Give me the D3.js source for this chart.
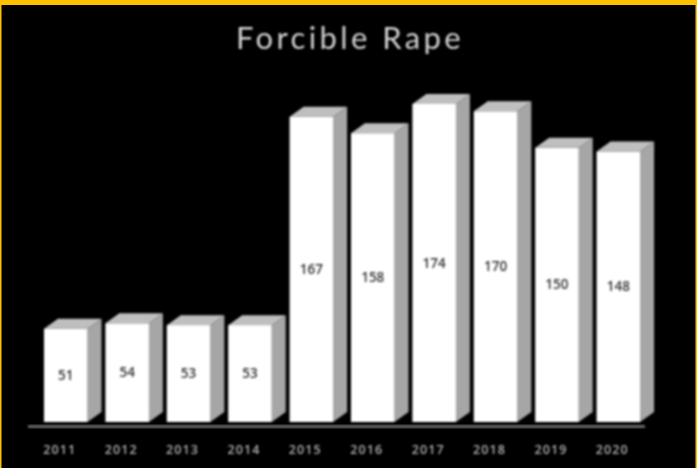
<!DOCTYPE html>
<html><head><meta charset="utf-8">
<script src="https://cdn.jsdelivr.net/npm/d3@7/dist/d3.min.js"></script>
<style>html,body{margin:0;padding:0;background:#000;overflow:hidden}svg{display:block}</style>
</head><body><svg id="c" width="697" height="468"></svg>
<script>
const years = ["2011","2012","2013","2014","2015","2016","2017","2018","2019","2020"];
const counts = [51,54,53,53,167,158,174,170,150,148];
const chartTitle = "Forcible Rape";

const W = 697, H = 468;
const dx = 14, dy = 10;
const svg = d3.select("#c");
const defs = svg.append("defs");
defs.append("filter").attr("id","b").attr("x","-5%").attr("y","-5%").attr("width","110%").attr("height","110%")
  .append("feGaussianBlur").attr("stdDeviation",0.95);
defs.append("filter").attr("id","b2").attr("x","-5%").attr("y","-20%").attr("width","110%").attr("height","140%")
  .append("feGaussianBlur").attr("stdDeviation",0.8);

svg.append("rect").attr("width",W).attr("height",H).attr("fill","#000");
svg.append("rect").attr("width",W).attr("height",5).attr("fill","#FFC000");
svg.append("rect").attr("width",1.5).attr("height",H).attr("fill","#FFC000");
svg.append("rect").attr("x",W-1.5).attr("width",1.5).attr("height",H).attr("fill","#FFC000");

const x = d3.scaleBand().domain(years).range([35.05,649.05]).paddingInner(0.2915).paddingOuter(0.1458);
const y = d3.scaleLinear().domain([0,174]).range([422,104]);

const g = svg.append("g").attr("filter","url(#b)");
const bars = g.selectAll("g.bar").data(years.map((yr,i)=>({yr,v:counts[i]}))).join("g").attr("class","bar");

bars.append("polygon").attr("fill","#a6a6a6").attr("points",d=>{
  const r=x(d.yr)+x.bandwidth(), t=y(d.v), b=y(0);
  return [[r,t],[r+dx,t-dy],[r+dx,b-dy],[r,b]].join(" ");
});
bars.append("polygon").attr("fill","#bfbfbf").attr("points",d=>{
  const l=x(d.yr), r=l+x.bandwidth(), t=y(d.v);
  return [[l,t],[l+dx,t-dy],[r+dx,t-dy],[r,t]].join(" ");
});
bars.append("rect").attr("x",d=>x(d.yr)).attr("y",d=>y(d.v)).attr("width",x.bandwidth())
  .attr("height",d=>y(0)-y(d.v)).attr("fill","#fff");

const axisG = svg.append("g").attr("filter","url(#b)");
axisG.append("rect").attr("x",28).attr("y",425).attr("width",617).attr("height",3).attr("fill","#666");

const txt = svg.append("g").attr("filter","url(#b2)");
txt.selectAll("text.val").data(years.map((yr,i)=>({yr,v:counts[i]}))).join("text").attr("class","val")
  .attr("x",d=>x(d.yr)+x.bandwidth()/2).attr("y",d=>(y(d.v)+y(0))/2+4.5)
  .attr("text-anchor","middle").attr("font-family","'Open Sans'").attr("font-size",13.5).attr("font-weight",600).attr("fill","#333")
  .text(d=>d.v);
txt.selectAll("text.yr").data(years).join("text").attr("class","yr")
  .attr("x",d=>x(d)+x.bandwidth()/2-6).attr("y",453.5)
  .attr("text-anchor","middle").attr("font-family","'Open Sans'").attr("font-size",12.5).attr("font-weight",600).attr("letter-spacing",1.1).attr("fill","#b0b0b0")
  .text(d=>d);
txt.append("text").attr("x",350).attr("y",48.5).attr("text-anchor","middle")
  .attr("font-family","Lato").attr("font-size",31).attr("letter-spacing",3.4).attr("fill","#d0d0d0")
  .text(chartTitle);
</script></body></html>
